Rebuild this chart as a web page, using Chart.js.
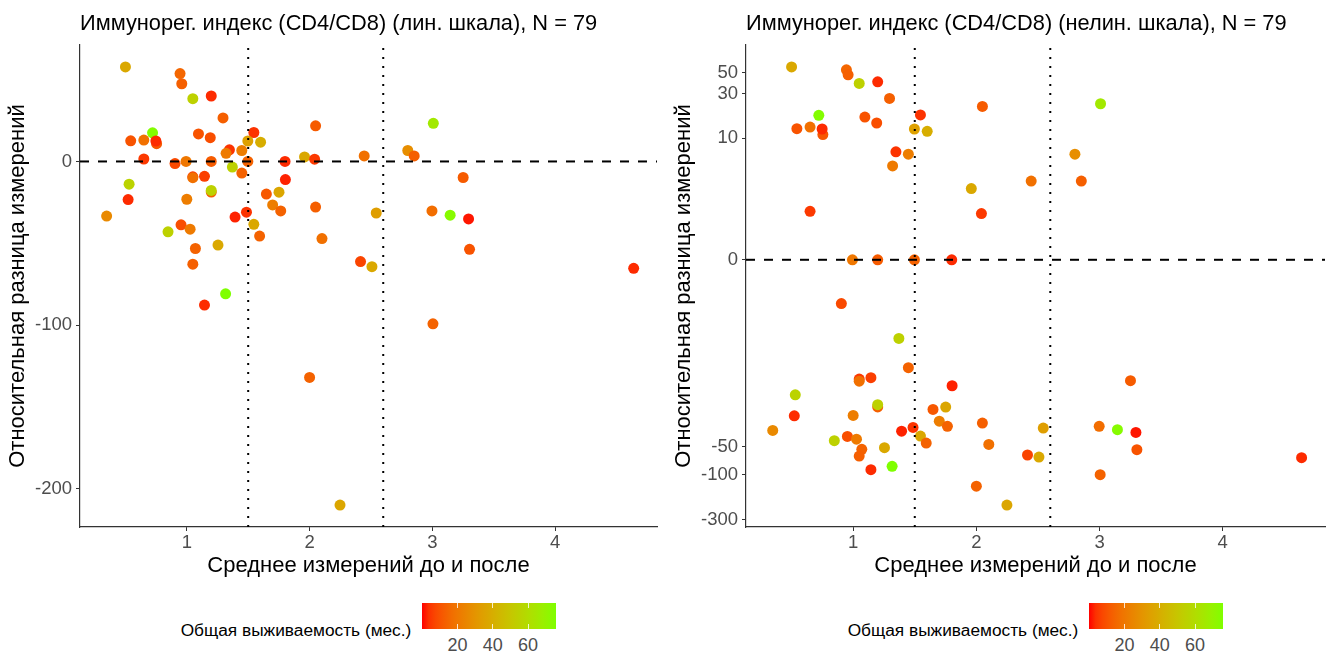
<!DOCTYPE html>
<html>
<head>
<meta charset="utf-8">
<script src="https://cdn.jsdelivr.net/npm/chart.js@4.4.1/dist/chart.umd.min.js"></script>
<style>
  body { margin: 0; background: #fff; width: 1336px; height: 655px; overflow: hidden;
         font-family: 'Liberation Sans', Arial, sans-serif; }
  .panel { position: absolute; top: 0; width: 668px; height: 655px; }
  .panel canvas { position: absolute; left: 0; top: 0; }
  .legend { position: absolute; top: 603px; display: flex; justify-content: center; }
  .ltitle { font-size: 17.3px; line-height: 20px; color: #000; margin-top: 17px; margin-right: 11px; white-space: nowrap; }
  .barwrap { position: relative; width: 134px; height: 52px; }
  .bar { position: absolute; left: 0; top: 0; width: 134px; height: 26px; }
  .tick { position: absolute; width: 1px; height: 5px; background: rgba(255,255,255,0.8); }
  .tlabel { position: absolute; top: 32px; font-size: 18px; line-height: 20px; color: #4D4D4D; transform: translateX(-50%); }
</style>
</head>
<body>
<div class="panel" id="p1" style="left:0"><canvas id="c1" width="668" height="590"></canvas></div>
<div class="panel" id="p2" style="left:668px"><canvas id="c2" width="668" height="590"></canvas></div>
<script>
// mean of before/after measurements (x)
const meanX = [
  0.50, 0.945, 0.959, 1.049, 1.199, 1.295, 2.049, 0.721, 1.095, 1.191,
  1.546, 0.543, 0.65, 0.754, 0.748, 1.497, 1.601, 1.347, 1.448, 1.32,
  2.445, 1.959, 0.65, 2.041, 0.994, 1.199, 1.497, 1.80, 3.008, 2.80,
  2.852, 3.251, 2.997, 3.145, 3.295, 3.303, 3.005, 4.64, 0.904, 1.371,
  1.448, 1.049, 1.049, 1.144, 1.803, 0.53, 0.522, 0.347, 0.847, 0.953,
  1.027, 1.0, 1.07, 1.049, 1.144, 1.316, 1.254, 1.199, 1.199, 1.393,
  1.486, 1.546, 1.593, 1.648, 1.751, 1.699, 1.765, 2.049, 2.101, 2.415,
  2.0, 2.248, 2.543, 2.508
];
// relative difference of measurements, % (y)
const relDiff = [
  57.8, 53.7, 47.5, 38.4, 40.0, 26.6, 21.8, 17.5, 16.8, 14.5,
  17.7, 12.6, 13.1, 10.9, 12.5, 12.5, 11.8, 7.1, 6.7, 5.0,
  3.4, 2.8, 1.5, 1.4, 0, 0, 0, 0, 23.3, 6.7,
  3.4, -9.8, -30.2, -32.8, -35.1, -53.7, -99.2, -65.3, -1.3, -3.4,
  -7.1, -9.4, -9.9, -9.1, -11.1, -13.9, -23.3, -33.4, -43.0, -38.7,
  -41.4, -23.1, -53.2, -62.8, -87.8, -80.9, -51.1, -18.7, -17.7, -34.0,
  -31.0, -38.4, -45.6, -19.9, -18.8, -26.6, -30.2, -27.9, -47.1, -61.2,
  -132, -210, -31.5, -64.3
];
// overall survival, months (colour)
const survival = [
  38, 15, 13, 55, 3, 13, 12, 75, 10, 9,
  4, 10, 18, 11, 3, 35, 40, 4, 22, 21,
  18, 38, 5, 5, 20, 12, 14, 3, 66, 28,
  13, 12, 17, 74, 1, 10, 14, 3, 8, 55,
  14, 5, 18, 6, 2, 56, 3, 26, 55, 9,
  21, 22, 14, 13, 3, 76, 38, 13, 55, 2,
  4, 38, 14, 11, 37, 22, 14, 13, 18, 7,
  14, 37, 34, 38
];

const xTicks = [1, 2, 3, 4];
const linTicks = [-200, -100, 0];
const nonlinTicks = [-300, -100, -50, 0, 10, 30, 50];
const legendTicks = [20, 40, 60];
const vLines = [1.5, 2.6];
const hLine = 0;
const survMin = 0, survMax = 76;

const xMin = 0.13, xMax = 4.83;
const linMin = -223.4, linMax = 71.2;
const asMin = -6.58, asMax = 5.29;

const title1 = 'Иммунорег. индекс (CD4/CD8) (лин. шкала), N = 79';
const title2 = 'Иммунорег. индекс (CD4/CD8) (нелин. шкала), N = 79';
const xTitle = 'Среднее измерений до и после';
const yTitle = 'Относительная разница измерений';
const legendTitle = 'Общая выживаемость (мес.)';

// colour scale: red -> chartreuse, interpolated in Lab like ggplot
function toLin(c) { c /= 255; return c <= 0.04045 ? c / 12.92 : Math.pow((c + 0.055) / 1.055, 2.4); }
function fromLin(c) { c = c <= 0.0031308 ? 12.92 * c : 1.055 * Math.pow(c, 1 / 2.4) - 0.055; return Math.max(0, Math.min(255, Math.round(c * 255))); }
function rgbToLab(rgb) {
  const [r, g, b] = rgb.map(toLin);
  const X = (0.4124564 * r + 0.3575761 * g + 0.1804375 * b) / 0.95047;
  const Y = (0.2126729 * r + 0.7151522 * g + 0.0721750 * b);
  const Z = (0.0193339 * r + 0.1191920 * g + 0.9503041 * b) / 1.08883;
  const f = t => t > 0.008856 ? Math.cbrt(t) : 7.787 * t + 16 / 116;
  return [116 * f(Y) - 16, 500 * (f(X) - f(Y)), 200 * (f(Y) - f(Z))];
}
function labToRgb(lab) {
  const fy = (lab[0] + 16) / 116, fx = fy + lab[1] / 500, fz = fy - lab[2] / 200;
  const inv = t => t > 0.206893 ? t * t * t : (t - 16 / 116) / 7.787;
  const X = inv(fx) * 0.95047, Y = inv(fy), Z = inv(fz) * 1.08883;
  const r = 3.2404542 * X - 1.5371385 * Y - 0.4985314 * Z;
  const g = -0.9692660 * X + 1.8760108 * Y + 0.0415560 * Z;
  const b = 0.0556434 * X - 0.2040259 * Y + 1.0572252 * Z;
  return [fromLin(r), fromLin(g), fromLin(b)];
}
const LOW = rgbToLab([255, 0, 0]), HIGH = rgbToLab([127, 255, 0]);
function colourAt(t) {
  t = Math.max(0, Math.min(1, t));
  const c = labToRgb(LOW.map((v, i) => v + (HIGH[i] - v) * t));
  return 'rgb(' + c.join(',') + ')';
}
function survColour(v) { return colourAt((v - survMin) / (survMax - survMin)); }

Chart.defaults.font.family = "'Liberation Sans', Arial, sans-serif";

function buildChart(id, titleText, tf, yTicks, yMin, yMax, axisW) {
  const pts = meanX.map((x, i) => ({x: x, y: tf(relDiff[i])}));
  const ref = {showLine: true, pointRadius: 0, borderColor: '#000', borderWidth: 2, fill: false, order: 0};
  const datasets = [
    Object.assign({data: [{x: xMin, y: tf(hLine)}, {x: xMax, y: tf(hLine)}], borderDash: [9, 9]}, ref),
    ...vLines.map(v => Object.assign({data: [{x: v, y: yMin}, {x: v, y: yMax}], borderDash: [2, 7]}, ref)),
    {data: pts, pointRadius: 5.5, pointBackgroundColor: survival.map(survColour),
     pointBorderWidth: 0, order: 1}
  ];
  return new Chart(document.getElementById(id), {
    type: 'scatter',
    data: {datasets: datasets},
    options: {
      responsive: false,
      animation: false,
      events: [],
      layout: {padding: {left: 0, right: 11, top: 0, bottom: 0}},
      plugins: {
        legend: {display: false},
        tooltip: {enabled: false},
        title: {display: true, text: titleText, align: 'start', fullSize: false,
                font: {size: 21.8, weight: 'normal'}, color: '#000', padding: {top: 11, bottom: 7.8}}
      },
      scales: {
        x: {
          type: 'linear', min: xMin, max: xMax,
          afterBuildTicks: s => { s.ticks = xTicks.map(v => ({value: v})); },
          afterFit: s => { s.height = 63; },
          grid: {drawOnChartArea: false, drawTicks: true, tickLength: 4, color: '#333'},
          border: {display: true, color: '#333', width: 1.2},
          ticks: {font: {size: 18.5}, color: '#4D4D4D', padding: 1, maxRotation: 0},
          title: {display: true, text: xTitle, font: {size: 22}, color: '#000', padding: {top: 0, bottom: 10.8}}
        },
        y: {
          type: 'linear', min: yMin, max: yMax,
          afterBuildTicks: s => { s.ticks = yTicks.map(v => ({value: tf(v)})); },
          afterFit: s => { s.width = axisW; },
          grid: {drawOnChartArea: false, drawTicks: true, tickLength: 4, color: '#333'},
          border: {display: true, color: '#333', width: 1.2},
          ticks: {font: {size: 18.5}, color: '#4D4D4D', padding: 4,
                  callback: (v, i) => String(yTicks[i])},
          title: {display: true, text: yTitle, font: {size: 22}, color: '#000',
                  padding: {top: axisW - 75, bottom: 0}}
        }
      }
    }
  });
}

function addLegend(panelId, chart) {
  const area = chart.chartArea;
  const lg = document.createElement('div');
  lg.className = 'legend';
  lg.style.left = area.left + 'px';
  lg.style.width = (area.right - area.left) + 'px';
  const t = document.createElement('span');
  t.className = 'ltitle';
  t.textContent = legendTitle;
  lg.appendChild(t);
  const wrap = document.createElement('div');
  wrap.className = 'barwrap';
  const bar = document.createElement('div');
  bar.className = 'bar';
  const stops = [];
  for (let i = 0; i <= 20; i++) stops.push(colourAt(i / 20) + ' ' + (i * 5) + '%');
  bar.style.background = 'linear-gradient(to right, ' + stops.join(', ') + ')';
  wrap.appendChild(bar);
  legendTicks.forEach(v => {
    const px = (v - survMin) / (survMax - survMin) * 134;
    [0, 21].forEach(top => {
      const tk = document.createElement('div');
      tk.className = 'tick';
      tk.style.left = (px - 0.5) + 'px';
      tk.style.top = top + 'px';
      wrap.appendChild(tk);
    });
    const lb = document.createElement('span');
    lb.className = 'tlabel';
    lb.style.left = px + 'px';
    lb.textContent = String(v);
    wrap.appendChild(lb);
  });
  lg.appendChild(wrap);
  document.getElementById(panelId).appendChild(lg);
}

const chart1 = buildChart('c1', title1, v => v, linTicks, linMin, linMax, 80);
const chart2 = buildChart('c2', title2, v => Math.asinh(v), nonlinTicks, asMin, asMax, 78);
addLegend('p1', chart1);
addLegend('p2', chart2);
</script>
</body>
</html>
